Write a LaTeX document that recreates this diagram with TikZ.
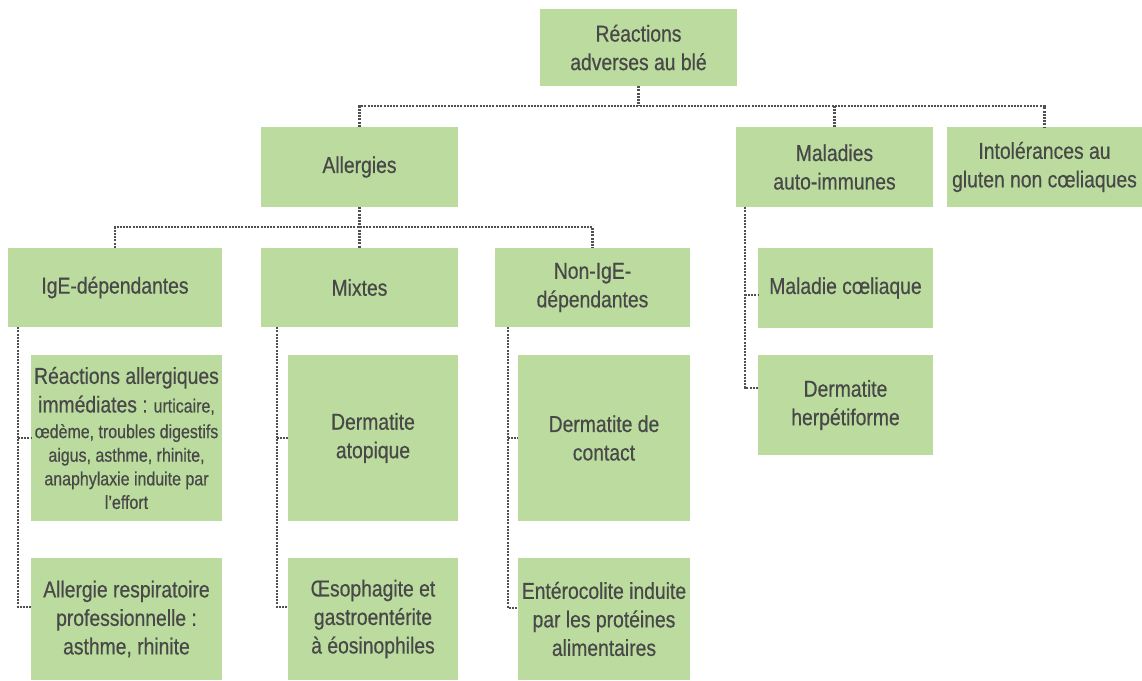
\documentclass[tikz,border=0pt]{standalone}
\usepackage{fontspec}
\setmainfont{Liberation Sans}[FakeStretch=0.84,FakeBold=0.5]
\definecolor{boxfill}{RGB}{187,220,158}
\definecolor{txt}{RGB}{72,72,72}
\definecolor{ln}{RGB}{80,80,80}
\tikzset{
  box/.style={rectangle, fill=boxfill, text=txt, align=center, inner sep=0pt,
    font=\fontsize{23}{28.5}\selectfont},
  smalltxt/.style={font=\fontsize{19}{23.6}\selectfont},
  conn/.style={draw=ln, line width=2.4pt, dash pattern=on 2pt off 1.2pt},
}
\begin{document}
\begin{tikzpicture}[x=1pt,y=-1pt]
\useasboundingbox (0,0) rectangle (1142,680);
% level 0
\node[box, minimum width=197pt, minimum height=77pt] (root) at (638.5,47.5) {Réactions\\adverses au blé};
% level 1
\node[box, minimum width=197pt, minimum height=80pt] (allerg) at (359.5,167) {Allergies};
\node[box, minimum width=197pt, minimum height=80pt] (mai) at (834.5,167) {Maladies\\auto-immunes};
\node[box, minimum width=195pt, minimum height=80pt] (intol) at (1044.5,167) {Intolérances au\\gluten non cœliaques};
% level 2
\node[box, minimum width=214pt, minimum height=79pt] (ige) at (115,287.5) {IgE-dépendantes};
\node[box, minimum width=197pt, minimum height=79pt] (mixtes) at (359.5,287.5) {Mixtes};
\node[box, minimum width=195pt, minimum height=79pt] (nonige) at (592.5,287.5) {Non-IgE-\\dépendantes};
\node[box, minimum width=175pt, minimum height=80pt] (mcoel) at (845.5,288) {Maladie cœliaque};
\node[box, minimum width=175pt, minimum height=100pt] (dherp) at (845.5,405) {Dermatite\\herpétiforme};
% level 3
\node[box, smalltxt, minimum width=191pt, minimum height=166pt] (reac) at (126.5,438)
  {{\fontsize{23}{28.5}\selectfont Réactions allergiques}\\[5pt]
   {\fontsize{23}{28.5}\selectfont immédiates :} urticaire,\\[2pt]
   œdème, troubles digestifs\\
   aigus, asthme, rhinite,\\
   anaphylaxie induite par\\
   l’effort};
\node[box, minimum width=191pt, minimum height=122pt] (alresp) at (126.5,619) {Allergie respiratoire\\professionnelle :\\asthme, rhinite};
\node[box, minimum width=170pt, minimum height=166pt] (derma) at (373,438) {Dermatite\\atopique};
\node[box, minimum width=170pt, minimum height=122pt] (oeso) at (373,619) {Œsophagite et\\gastroentérite\\à éosinophiles};
\node[box, minimum width=172pt, minimum height=166pt] (dcont) at (604,438) {Dermatite de\\contact};
\node[box, minimum width=172pt, minimum height=122pt] (entero) at (604,619) {Entérocolite induite\\par les protéines\\alimentaires};
% buses
\coordinate (bus1) at (0,106);
\coordinate (bus2) at (0,227);
\draw[conn] (root.south) -- (root.south |- bus1);
\draw[conn] (allerg.north) -- (allerg.north |- bus1) -- (intol.north |- bus1) -- (intol.north);
\draw[conn] (mai.north |- bus1) -- (mai.north);
\draw[conn] (allerg.south) -- (mixtes.north);
\draw[conn] (ige.north) -- (ige.north |- bus2) -- (nonige.north |- bus2) -- (nonige.north);
% side rails
\coordinate (v1) at ([xshift=10pt]ige.south west);
\draw[conn] (v1) |- ([yshift=12pt]alresp.west);
\draw[conn] (v1 |- reac.west) -- (reac.west);
\coordinate (v2) at ([xshift=16pt]mixtes.south west);
\draw[conn] (v2) |- ([yshift=12pt]oeso.west);
\draw[conn] (v2 |- derma.west) -- (derma.west);
\coordinate (v3) at ([xshift=13pt]nonige.south west);
\draw[conn] (v3) |- ([yshift=11pt]entero.west);
\draw[conn] (v3 |- dcont.west) -- (dcont.west);
\coordinate (v4) at ([xshift=9pt]mai.south west);
\draw[conn] (v4) |- ([yshift=17pt]dherp.west);
\draw[conn] (v4 |- 0,295) -- ([yshift=-7pt]mcoel.west);
\end{tikzpicture}
\end{document}
